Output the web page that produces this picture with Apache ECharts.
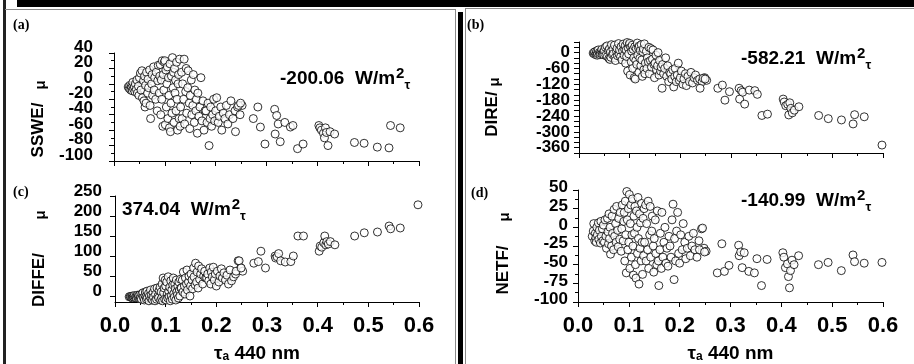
<!DOCTYPE html>
<html><head><meta charset="utf-8">
<script src="https://cdn.jsdelivr.net/npm/echarts@6/dist/echarts.min.js"></script>
<style>html,body{margin:0;padding:0;background:#fff}#c{width:914px;height:364px}</style>
</head><body><div id="c"></div>
<script>
// ---- data ----
const tauDense = [
 0.028,0.030,0.031,0.033,0.034,0.035,0.036,0.037,0.038,0.040,0.041,0.042,0.044,0.045,0.046,0.048,0.049,0.050,
 0.052,0.053,0.055,0.056,0.058,0.059,0.060,0.061,0.062,0.063,0.064,0.066,0.067,0.068,0.070,0.071,0.072,0.074,0.075,0.076,0.078,0.079,0.080,0.082,0.083,0.085,0.086,0.087,0.089,0.090,
 0.091,0.092,0.093,0.094,0.095,0.096,0.097,0.098,0.099,0.100,0.101,0.102,0.103,0.104,0.105,0.106,0.107,0.108,0.109,0.110,0.111,0.112,0.113,0.114,0.115,0.116,0.117,0.118,0.119,0.120,0.121,0.122,0.123,0.124,0.125,0.126,0.127,0.128,0.129,0.130,
 0.131,0.133,0.134,0.135,0.137,0.138,0.139,0.141,0.142,0.143,0.145,0.146,0.148,0.149,0.150,0.152,0.153,0.155,0.156,0.158,0.159,0.161,0.162,0.164,0.165,0.167,0.169,0.171,0.173,0.175,0.177,0.179,
 0.181,0.183,0.185,0.187,0.189,0.190,0.192,0.194,0.196,0.198,0.200,0.202,0.205,0.207,0.210,0.212,0.215,0.218,0.221,0.224,0.227,0.230,0.234,0.238,0.243,0.248,0.252
];
const tauSparse = [0.239,0.245,0.249,0.274,0.283,0.288,0.297,0.316,0.317,0.320,0.323,0.327,0.336,0.347,0.352,0.361,0.372,0.403,0.405,0.408,0.412,0.414,0.416,0.418,0.421,0.425,0.434,0.473,0.492,0.518,0.541,0.544,0.563,0.598];

const sswDense = [
 -4,-6,-2,-8,-3,-5,-9,2,-6,-4,-10,0,-7,5,-12,-3,-15,8,
 14,-8,17,-18,4,-22,10,-30,-2,-25,15,-12,6,-5,18,-28,-45,0,12,-15,22,-8,8,-20,15,-35,4,24,-12,10,
 25,-40,5,-20,30,-55,12,-8,28,30,-53,18,-30,0,22,-45,8,-15,-57,26,-62,-25,10,-38,34,-5,15,-50,20,-12,5,-35,28,-20,-60,0,12,-45,32,-55,
 -30,15,-45,0,-20,32,-52,-10,20,-38,-5,17,-25,-58,-15,5,-40,-28,12,-50,-8,-35,-20,-64,-12,-42,-30,8,-48,-22,-60,-35,
 -35,-50,-25,-80,-45,-30,-55,-40,-20,-48,-35,-18,-50,-42,-30,-60,-38,-45,-28,-52,-40,-22,-45,-35,-30,-40,-28
];
const sswSparse = [-62,-28,-25,-45,-30,-56,-78,-33,-65,-41,-52,-75,-50,-56,-54,-84,-78,-54,-57,-60,-64,-70,-57,-63,-80,-62,-65,-76,-77,-82,-83,-54,-57,-108];

const dirDense = [
 -2,-5,3,-8,-3,6,-10,-4,10,0,-8,-2,4,12,-6,2,-9,8,
 20,-10,25,-15,8,-22,14,-26,2,-18,30,-8,12,-4,28,-20,-30,5,16,-12,34,-6,10,-16,22,-28,6,32,-10,12,
 25,-40,10,-15,38,-70,18,-5,30,35,-85,20,-35,5,28,-60,12,-20,-95,22,-100,-30,15,-45,36,-10,20,-75,25,-22,8,-50,30,-28,-90,2,14,-65,33,-80,
 -40,5,-60,-20,-35,20,-80,-30,15,-55,-25,10,-45,-95,-40,-10,-65,-50,0,-85,-30,-70,-55,-135,-45,-80,-60,-20,-90,-50,-110,-75,
 -80,-100,-65,-130,-90,-60,-110,-85,-40,-105,-95,-70,-120,-100,-80,-125,-90,-110,-75,-115,-95,-85,-105,-100,-110,-95,-105
];
const dirSparse = [-135,-97,-100,-135,-123,-180,-148,-135,-176,-144,-150,-195,-142,-144,-158,-238,-233,-176,-187,-201,-196,-236,-190,-211,-228,-218,-205,-238,-250,-255,-270,-235,-243,-350];

const difDense = [
 -2,-1,-3,-4,0,-5,-2,-3,1,-4,-1,-5,2,-4,0,-6,3,-5,
 -8,5,8,-4,-10,2,10,-2,-8,12,-4,6,-12,0,15,-6,3,-10,8,-3,18,-12,4,-8,20,0,-5,14,22,-10,
 10,-5,30,-12,45,8,20,-8,40,25,-10,35,5,-5,48,12,-2,22,-12,38,0,15,-8,28,45,6,-3,30,18,-10,40,10,2,25,-5,35,15,0,42,20,
 20,40,10,60,25,5,45,30,65,15,35,50,0,25,55,40,18,70,48,28,82,35,60,20,75,42,55,68,30,50,62,45,
 45,55,38,70,30,60,48,72,40,55,25,62,35,50,68,45,58,40,52,30,65,38,48,55,88,70,62
];
const difSparse = [62,88,70,82,86,112,70,100,95,98,106,88,85,86,100,150,150,112,125,122,133,150,128,136,130,136,128,150,158,160,175,168,170,228];

const netDense = [
 -12,-5,5,-18,-8,-14,-20,0,-10,6,-16,-4,-21,8,-12,-2,-18,3,
 -20,10,-12,-28,12,-6,-22,18,-15,0,-36,-25,15,-8,-30,24,-12,5,-20,28,-4,-26,12,-16,20,-32,-2,30,-18,8,
 20,-45,35,-10,-61,48,10,-30,25,-20,44,-55,5,30,-40,-10,38,-25,-64,15,-8,28,-50,-68,22,0,-35,40,-15,-76,18,-28,6,-45,32,-20,-63,12,-38,25,
 -20,30,-45,5,-30,35,-55,-10,28,-40,-5,15,-25,-60,-15,10,-35,-50,22,-45,-78,-30,-8,-55,20,-40,-20,0,-48,-28,-52,-12,
 -25,-40,10,31,-70,-15,-45,-5,20,-35,-48,-10,-30,5,-20,-42,-28,-12,-38,-25,-8,-30,-40,-18,-2,-28,-32
];
const netSparse = [-30,-1,-33,-61,-22,-59,-51,-24,-38,-33,-54,-34,-59,-61,-42,-78,-43,-34,-40,-54,-49,-66,-81,-58,-44,-50,-38,-50,-47,-58,-37,-46,-48,-47];

// tick values (near-duplicate spacer values keep ECharts' min/max label check from hiding a real label)
const sswTicks = [-100,-99.99,-80,-60,-40,-20,0,20,39.99,40];
const diffTickLabels = [0,50,100,150,200,250];
const panelLetters = ['(a)','(b)','(c)','(d)'];
const yNames = ['SSWE/','DIRE/','DIFFE/','NETF/'];
const slopes = ['-200.06','-582.21','374.04','-140.99'];
const xName = ['τ','a',' 440 nm'];

// ---- chart ----
const FAM = '"Liberation Sans", Arial, sans-serif';
const chart = echarts.init(document.getElementById('c'), null, {renderer:'canvas'});

function pairs(t, v){ return t.map((x,i)=>[x, v[i]]); }
const allTau = tauDense.concat(tauSparse);
const intLabel = v => (Math.abs(v - Math.round(v)) > 0.001 ? '' : String(Math.round(v)));

const grids = [
  {left:114, top:53, width:305, height:108},
  {left:579, top:42, width:304, height:111},
  {left:115, top:196, width:304, height:107},
  {left:578, top:190, width:305, height:113}
];

function xAxis(gi, showLabels, shiftLeft){
  return {type:'value', gridIndex:gi, min:0, max:0.6, interval:0.1,
    axisLine:{onZero:false, lineStyle:{color:'#000', width:1}},
    axisTick:{show:true, inside:false, length:5, lineStyle:{color:'#000'}},
    minorTick:{show:true, splitNumber:2, length:3, lineStyle:{color:'#000'}},
    splitLine:{show:false}, minorSplitLine:{show:false},
    axisLabel:{show:showLabels, showMinLabel:true, showMaxLabel:true, formatter:v=>v.toFixed(1),
      fontFamily:FAM, fontWeight:'bold', fontSize:22, color:'#000', margin:13},
    name: showLabels ? '{t|'+xName[0]+'}{s|'+xName[1]+'}{t|'+xName[2]+'}' : '',
    nameLocation:'middle', nameGap:39,
    nameTextStyle:{padding:[0, shiftLeft||0, 0, 0],
      rich:{t:{fontFamily:FAM, fontWeight:'bold', fontSize:19, color:'#000', lineHeight:22, verticalAlign:'bottom'},
            s:{fontFamily:FAM, fontWeight:'bold', fontSize:12, color:'#000', lineHeight:12, verticalAlign:'bottom'}}}
  };
}
function yLabel(extra){ return Object.assign({fontFamily:FAM, fontWeight:'bold', fontSize:17, color:'#000', margin:8,
  showMinLabel:true, showMaxLabel:true, hideOverlap:false}, extra||{}); }
function yAxis(gi, cfg){
  return Object.assign({type:'value', gridIndex:gi,
    axisLine:{show:true, onZero:false, lineStyle:{color:'#000', width:1}},
    axisTick:{show:true, inside:false, length:5, lineStyle:{color:'#000'}},
    minorTick:{show:true, splitNumber:2, length:3, lineStyle:{color:'#000'}},
    splitLine:{show:false}, minorSplitLine:{show:false}
  }, cfg);
}

const yAxes = [
  yAxis(0, {min:-100, max:40, interval:20,
            axisTick:{show:true, inside:false, length:5, lineStyle:{color:'#000'}, customValues:sswTicks},
            axisLabel:yLabel({margin:21, verticalAlign:'bottom', lineHeight:12, customValues:sswTicks, formatter:intLabel})}),
  yAxis(1, {min:-380, max:40, interval:20, minorTick:{show:false},
            axisLabel:yLabel({margin:9, lineHeight:12, formatter:v=> (v%60===0 ? String(v) : '')})}),
  yAxis(2, {min:-15, max:250, minorTick:{show:false},
            axisTick:{show:true, inside:false, length:5, lineStyle:{color:'#000'}, customValues:diffTickLabels},
            axisLabel:yLabel({margin:13, verticalAlign:'bottom', lineHeight:9, customValues:diffTickLabels})}),
  yAxis(3, {min:-100, max:50, interval:25, axisLabel:yLabel({margin:10, verticalAlign:'bottom', lineHeight:5})})
];

const sets = [
  pairs(allTau, sswDense.concat(sswSparse)),
  pairs(allTau, dirDense.concat(dirSparse)),
  pairs(allTau, difDense.concat(difSparse)),
  pairs(allTau, netDense.concat(netSparse))
];

const series = sets.map((d,i)=>({type:'scatter', xAxisIndex:i, yAxisIndex:i, data:d, symbol:'circle', symbolSize:8,
  itemStyle:{color:'#fff', borderColor:'#000', borderWidth:1}, clip:true, silent:true}));

// decorative frame + texts
const G = [];
const gray = '#8a8a8a';
G.push({type:'rect', shape:{x:17,y:0,width:897,height:7}, style:{fill:'#000'}});
G.push({type:'rect', shape:{x:3,y:0,width:3,height:364}, style:{fill:'#222'}});
G.push({type:'line', shape:{x1:5,y1:9.5,x2:455,y2:9.5}, style:{stroke:gray, lineWidth:1}});
G.push({type:'line', shape:{x1:455.5,y1:9,x2:455.5,y2:364}, style:{stroke:gray, lineWidth:1}});
G.push({type:'rect', shape:{x:458,y:12,width:5,height:352}, style:{fill:'#000'}});
G.push({type:'line', shape:{x1:465.5,y1:8.5,x2:465.5,y2:364}, style:{stroke:gray, lineWidth:1}});
G.push({type:'line', shape:{x1:465,y1:8.5,x2:914,y2:8.5}, style:{stroke:gray, lineWidth:1}});

function txtStyle(text, size, weight, fam, extra){
  return Object.assign({text:text, fontSize:size, fontWeight:weight||'bold', fontFamily:fam||FAM, fill:'#000'}, extra||{});
}

const letterPos = [[13,25],[467,25],[13,192],[471,193]];
panelLetters.forEach((t,i)=>G.push({type:'text', x:letterPos[i][0], y:letterPos[i][1],
  style:txtStyle(t, 14, 'bold', '"Liberation Serif", "DejaVu Serif", serif', {verticalAlign:'middle'})}));

const yNamePos = [[38,130,41,85],[492,114,495,82],[39,280,41,215],[503,270,505,217]];
yNames.forEach((t,i)=>{
  const p = yNamePos[i];
  G.push({type:'text', x:p[0], y:p[1], rotation:Math.PI/2,
    style:txtStyle(t, 17, 'bold', FAM, {align:'center', verticalAlign:'middle'})});
  G.push({type:'text', x:p[2], y:p[3], rotation:Math.PI/2,
    style:txtStyle('μ', 15, 'bold', FAM, {align:'center', verticalAlign:'middle'})});
});

const annPos = [[280,79],[741,59],[122,210],[741,201]];
slopes.forEach((t,i)=>{
  const p = annPos[i];
  G.push({type:'text', x:p[0], y:p[1], style:{
    text:'{m|'+t+'  W/m}{s|2}{t|τ}', verticalAlign:'middle',
    rich:{
      m:{fontSize:19, fontWeight:'bold', fontFamily:FAM, fill:'#000', lineHeight:26, verticalAlign:'middle'},
      s:{fontSize:15, fontWeight:'bold', fontFamily:FAM, fill:'#000', lineHeight:8, verticalAlign:'top', padding:[0,0,0,1]},
      t:{fontSize:13, fontWeight:'bold', fontFamily:FAM, fill:'#000', lineHeight:18, verticalAlign:'bottom'}
    }}});
});

chart.setOption({
  animation:false,
  backgroundColor:'#fff',
  grid:grids,
  xAxis:[xAxis(0,false), xAxis(1,false), xAxis(2,true,20), xAxis(3,true,0)],
  yAxis:yAxes,
  series:series,
  graphic:G
});
</script></body></html>
